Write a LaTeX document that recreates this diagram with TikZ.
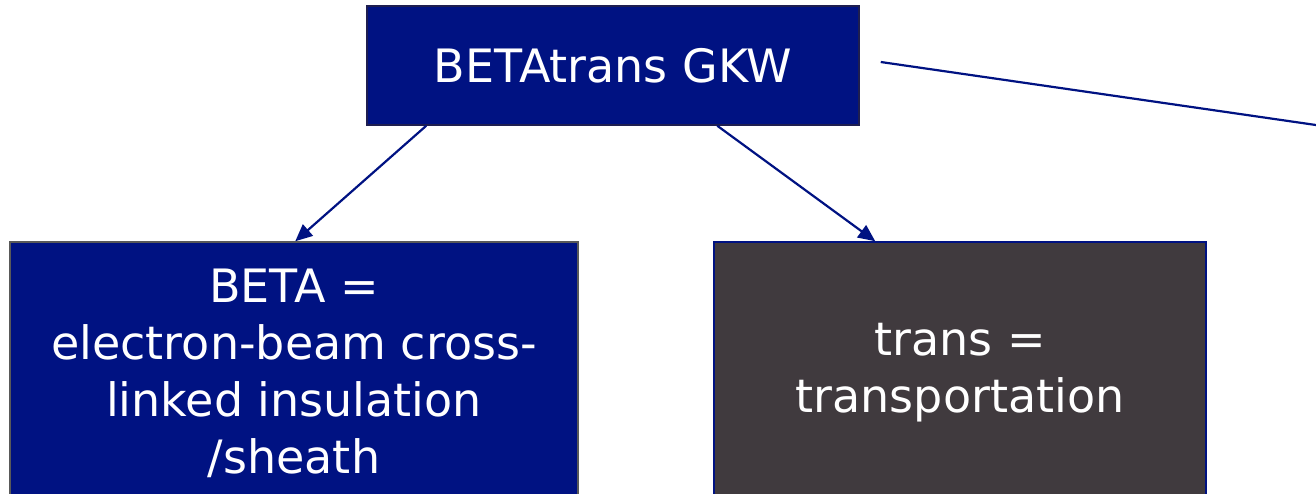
\documentclass[tikz,border=0pt]{standalone}
\usepackage{fontspec}
\setmainfont{DejaVu Sans}
\usetikzlibrary{arrows.meta}
\definecolor{navy}{RGB}{0,18,130}
\definecolor{darkbox}{RGB}{64,58,62}
\definecolor{edgegray}{RGB}{30,30,80}
\tikzset{
  box/.style={rectangle, draw=edgegray, line width=1.5pt, text=white, align=center,
    font=\fontsize{46}{57}\selectfont, inner sep=0pt},
  link/.style={draw=navy, line width=2.2pt, -{Triangle[length=17pt,width=15pt]}},
}
\begin{document}
\begin{tikzpicture}[x=1pt,y=-1pt]
\useasboundingbox (0,0) rectangle (1316,494);
\node[box, fill=navy, minimum width=492pt, minimum height=119pt] (top) at (613,65.5) {BETAtrans GKW};
\node[box, fill=navy, draw=gray!70!black, minimum width=568pt, minimum height=262pt] (left) at (294,373)
  {BETA =\\electron-beam cross-\\linked insulation\\/sheath};
\node[box, fill=darkbox, draw=navy, minimum width=492pt, minimum height=262pt] (right) at (960,373)
  {trans =\\transportation};
\coordinate (far) at (1340,128.5);
\draw[link] ([xshift=60pt]top.south west) -- ([xshift=286pt]left.north west);
\draw[link] ([xshift=351pt]top.south west) -- ([xshift=162pt]right.north west);
\draw[draw=navy, line width=2.2pt] ([xshift=21pt,yshift=3.5pt]top.east) -- (far);
\end{tikzpicture}
\end{document}
